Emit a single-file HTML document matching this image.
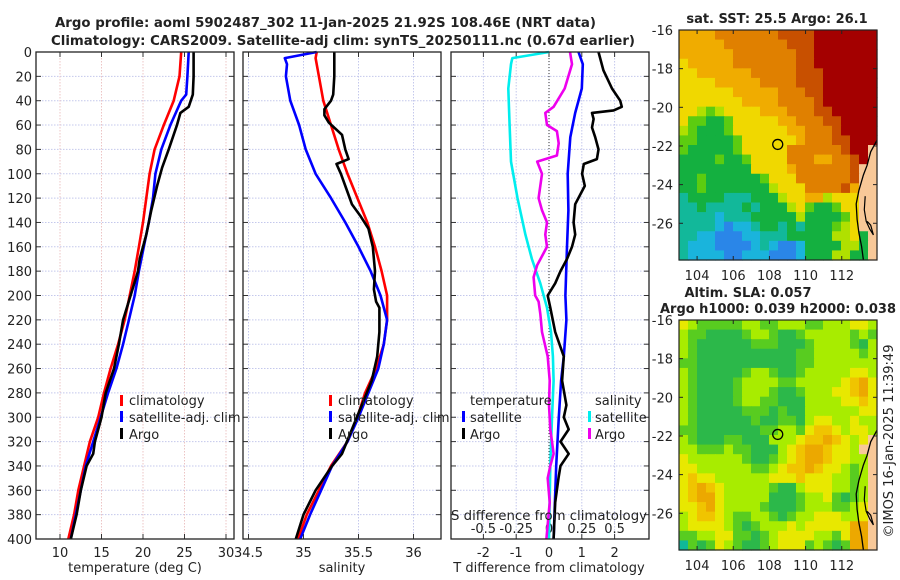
<!DOCTYPE html>
<html><head><meta charset="utf-8">
<style>
html,body{margin:0;padding:0;background:#fff;}
svg{display:block;font-family:"DejaVu Sans","Liberation Sans",sans-serif;}
text{fill:#222;}
</style></head>
<body>
<svg id="fig" width="900" height="580" viewBox="0 0 900 580" xmlns="http://www.w3.org/2000/svg">
<rect x="0" y="0" width="900" height="580" fill="#fff"/>
<text x="55" y="27" font-size="13" font-weight="bold" textLength="541" lengthAdjust="spacingAndGlyphs">Argo profile: aoml 5902487_302 11-Jan-2025 21.92S 108.46E (NRT data)</text>
<text x="51" y="45" font-size="13" font-weight="bold" textLength="584" lengthAdjust="spacingAndGlyphs">Climatology: CARS2009. Satellite-adj clim: synTS_20250111.nc (0.67d earlier)</text>
<g id="p1"></g>
<g id="p2"></g>
<g id="p3"></g>
<g id="m1"></g>
<g id="m2"></g>
<text x="135" y="572" font-size="13" text-anchor="middle">temperature (deg C)</text>
<text x="342" y="572" font-size="13" text-anchor="middle">salinity</text>
<text x="549" y="572" font-size="13" text-anchor="middle">T difference from climatology</text>
<text x="549" y="520" font-size="13" text-anchor="middle" textLength="196" lengthAdjust="spacingAndGlyphs">S difference from climatology</text>
<text x="777" y="23" font-size="13" font-weight="bold" text-anchor="middle">sat. SST: 25.5 Argo: 26.1</text>
<text x="748" y="297" font-size="13" font-weight="bold" text-anchor="middle">Altim. SLA: 0.057</text>
<text x="778" y="313" font-size="13" font-weight="bold" text-anchor="middle" textLength="236" lengthAdjust="spacingAndGlyphs">Argo h1000: 0.039 h2000: 0.038</text>
<text transform="translate(893,441) rotate(-90)" font-size="13" text-anchor="middle">©IMOS 16-Jan-2025 11:39:49</text>
<!-- legends -->
<g>
<rect x="120" y="395" width="3" height="11" fill="#f00"/>
<text x="129" y="405" font-size="13">climatology</text>
<rect x="120" y="411" width="3" height="11" fill="#00f"/>
<text x="129" y="422" font-size="13">satellite-adj. clim</text>
<rect x="120" y="428" width="3" height="11" fill="#000"/>
<text x="129" y="439" font-size="13">Argo</text>
</g>
<g>
<rect x="329" y="395" width="3" height="11" fill="#f00"/>
<text x="338" y="405" font-size="13">climatology</text>
<rect x="329" y="411" width="3" height="11" fill="#00f"/>
<text x="338" y="422" font-size="13">satellite-adj. clim</text>
<rect x="329" y="428" width="3" height="11" fill="#000"/>
<text x="338" y="439" font-size="13">Argo</text>
</g>
<g>
<text x="470" y="405" font-size="13">temperature</text>
<rect x="462" y="411" width="3" height="11" fill="#00f"/>
<text x="470" y="422" font-size="13">satellite</text>
<rect x="462" y="428" width="3" height="11" fill="#000"/>
<text x="470" y="439" font-size="13">Argo</text>
<text x="595" y="405" font-size="13">salinity</text>
<rect x="588" y="411" width="3" height="11" fill="#0ee"/>
<text x="595" y="422" font-size="13">satellite</text>
<rect x="588" y="428" width="3" height="11" fill="#e0e"/>
<text x="595" y="439" font-size="13">Argo</text>
</g>
</svg>
<script>
// ---------- profile data ----------
const depthTicks = [0,20,40,60,80,100,120,140,160,180,200,220,240,260,280,300,320,340,360,380,400];
const tTicks = [10,15,20,25,30];
const sTicks = [34.5,35,35.5,36];
const dTTicks = [-2,-1,0,1,2];
const dSTicks = [-0.5,-0.25,0,0.25,0.5];
const dSTickLabels = ["-0.5","-0.25","0","0.25","0.5"];

const tClimDepth = [0,20,40,60,80,100,120,140,160,180,200,220,240,260,280,300,320,340,360,380,400];
const tClimVals  = [24.6,24.4,23.7,22.5,21.4,20.8,20.4,20.0,19.5,19.0,18.4,17.8,17.0,16.1,15.3,14.6,13.6,12.9,12.2,11.7,11.0];
const tSatDepth = [0,20,35,40,60,80,100,120,140,160,180,200,220,240,260,280,300,320,340,360,380,400];
const tSatVals  = [25.5,25.35,25.2,24.6,23.3,22.2,21.5,21.2,20.7,20.1,19.5,19.0,18.3,17.6,16.8,15.8,14.9,14.0,13.1,12.5,11.9,11.3];
const tArgoDepth = [0,20,35,45,50,60,80,95,110,130,150,170,180,200,220,240,260,280,300,320,330,340,360,380,400];
const tArgoVals  = [26.1,26.1,26.0,25.5,24.5,24.1,23.1,22.3,21.7,21.0,20.4,19.6,19.4,18.5,17.6,17.1,16.5,15.5,15.0,14.2,14.0,13.2,12.5,12.0,11.3];

const sClimDepth = [0,5,20,40,60,80,100,120,140,160,180,200,220,240,260,280,300,320,340,360,380,400];
const sClimVals  = [35.12,35.11,35.14,35.18,35.25,35.32,35.40,35.49,35.58,35.65,35.71,35.76,35.76,35.73,35.66,35.56,35.49,35.40,35.25,35.14,35.03,34.95];
const sSatDepth = [0,5,10,20,40,60,80,100,120,140,160,180,200,220,240,260,280,300,320,340,360,380,400];
const sSatVals  = [35.12,34.83,34.85,34.84,34.88,34.96,35.02,35.11,35.25,35.38,35.50,35.61,35.70,35.76,35.73,35.68,35.59,35.50,35.40,35.26,35.16,35.06,34.97];
const sArgoDepth = [0,20,35,40,47,52,58,68,80,88,92,100,115,125,135,145,160,180,195,205,210,230,250,270,290,310,330,340,360,380,400];
const sArgoVals  = [35.28,35.28,35.27,35.25,35.19,35.19,35.23,35.35,35.38,35.41,35.30,35.34,35.40,35.44,35.52,35.59,35.63,35.65,35.64,35.66,35.69,35.69,35.67,35.62,35.53,35.44,35.35,35.26,35.11,35.00,34.93];

const dTSatDepth = [0,10,30,50,70,100,130,160,200,220,250,270,300,340,400];
const dTSatVals  = [0.90,1.03,1.00,0.80,0.65,0.57,0.59,0.55,0.50,0.53,0.45,0.37,0.30,0.22,0.14];
const dTArgoDepth = [0,15,30,40,45,48,50,55,62,70,80,88,92,100,110,125,140,150,160,170,180,190,200,210,230,250,270,290,300,310,320,330,340,350,370,400];
const dTArgoVals  = [1.51,1.66,1.92,2.17,2.22,1.97,1.31,1.36,1.31,1.41,1.51,1.46,1.06,1.01,1.09,0.80,0.75,0.80,0.70,0.55,0.35,0.19,-0.04,0.04,0.19,0.45,0.40,0.53,0.45,0.60,0.35,0.60,0.35,0.29,0.19,0.14];
const dSSatDepth = [0,5,10,30,60,90,120,150,170,190,210,230,250,270,300,340,400];
const dSSatVals  = [0,-0.28,-0.29,-0.31,-0.30,-0.29,-0.24,-0.18,-0.13,-0.066,-0.015,0.015,0.03,0.035,0.023,0.01,0];
const dSArgoDepth = [0,10,30,45,50,60,65,75,85,90,100,120,130,140,150,160,175,185,200,205,215,230,250,270,290,310,320,330,340,350,370,400];
const dSArgoVals  = [0.16,0.175,0.12,0.035,-0.028,-0.015,0.06,0.074,0.06,-0.09,-0.053,-0.079,-0.053,-0.015,-0.028,-0.015,-0.09,-0.117,-0.105,-0.079,-0.066,-0.053,-0.01,0.005,0,0.01,0.023,0.035,0.01,-0.01,0.005,-0.02];

// ---------- map data ----------
const sstRows = [
"ooooOOOOOOOddddRRRRRRR","oooooOOOOOOOdddRRRRRRR","ooooooOOOOOOOddRRRRRRR","YoooooOOOOOOOddRRRRRRR",
"YYooooooOOOOOdddRRRRRR","YYYYoooooOOOOdddRRRRRR","YYYYYYoooooOOOddRRRRRR","YYYYYYYooooOOOOdRRRRRR",
"YYylyYYYYoooOOOddRRRRR","YllgglYYYYYooOOOddRRRR","ylggglYYYYYYooOOOdRRRR","llgggglYYYYYYoOOOddRRR",
"lggggglYYYYYOOOOOOdRRL","gggglgglYYYYOOOooOOdRL","ggggggggYYYYoOOOOOOdLL","gglgggggglYYYOOOOOOdLL",
"gglgggggggyYYYOOOOdoLL","tggggtttgggyYYooyYYYLL","ttgttttgtgggyYlgglYYLL","ttttctttgggggygggglYLL",
"ttttcbcctggtgtggglyYLL","ttccbbbcctttgggggyyYgL","tcccbbbbctcbbcggggyygL","tccccbbcccbbbcgggyyggL"];
const slaRows = [
"ylgggggllgglllgglllyyl","lggGGGGgllgGGglllllglg","lgGGGGGGgggGGGgllllgGl","lgGGGGGGGGGGGgglllllgl",
"ggGGGGGGGGGGGgglllllll","lgGGGGGgllgGGglllllyyl","lgGGGGgllllgglllllyoOy","lgGGGGglllgGGglllyyoOy",
"lgGGGGgllggGGGllllyyoy","lgGGGGGgggGgGGllllllyy","lgGGGGGGgGGggGlyyllyll","ggGGGGGGGggllgyooylyyl",
"lgGGGggGGGlllyooOoylyL","llggglggGGGlyoOOoyylLL","yllllllgGGglyoOOoyyllL","yyllllllgglyooOoyylglL",
"yoyyllllllyyyoyyyllglL","yoOoylllllgGGlyyyllglL","yoOOylllllGGGgllygGglL","yyoOyllllgGGGglllgglyL",
"lyooylggllgGgllyyyllyL","lyyyylgGglllylyyyyyOOL","ggllyyggGglyyyyllgyOOL","tgGgylgGGglyyyglgGgOOL"];
const lonTicks = [104,106,108,110,112];
const latTicks = [-16,-18,-20,-22,-24,-26];
const coastLon = [113.95,113.6,113.4,113.2,112.95,112.8,112.85,112.95,113.1,113.2];
const coastLat = [-21.7,-22.3,-23.0,-23.5,-24.3,-25.0,-25.8,-26.5,-27.2,-27.9];
const bayLon = [113.3,113.25,113.35,113.55,113.75,113.6,113.4];
const bayLat = [-24.6,-25.3,-25.9,-26.3,-26.6,-26.1,-25.9];
const argoLon = 108.46, argoLat = -21.92;

const sstColors = {b:"#2a86e8",c:"#1ab4dc",t:"#12b89a",g:"#14b040",l:"#5ccc10",y:"#b0e000",Y:"#f0d800",o:"#f0ac00",O:"#e08000",d:"#c85000",R:"#a40000",L:"#f8c898"};
const slaColors = {t:"#10b898",G:"#2cb84a",g:"#58cc20",l:"#a8ec00",y:"#e8e800",o:"#f0c400",O:"#eca800",L:"#f8c898"};

const NS="http://www.w3.org/2000/svg";
function mk(parent, tag, attrs, txt){
  const e=document.createElementNS(NS,tag);
  for(const k in attrs) e.setAttribute(k,attrs[k]);
  if(txt!==undefined) e.textContent=txt;
  parent.appendChild(e); return e;
}
const Y0=52, Y1=539;
function yD(d){ return Y0 + d*(Y1-Y0)/400; }
function xT(t){ return 60 + (t-10)*8.3; }
function xS(s){ return 248.5 + (s-34.5)*110; }
function xDT(v){ return 549 + v*32.8; }
function xDS(v){ return 549 + v*4*32.8; }

function panel(g, x0, x1, xticks, xfn, labels, gridColor, showY){
  for(const d of depthTicks){
    const y=yD(d);
    const gl=mk(g,"line",{x1:x0,x2:x1,y1:y,y2:y,stroke:"#c4c8ec","stroke-width":1,"stroke-dasharray":"1.5,1.5"});
    
    
    const t1=mk(g,"line",{x1:x0,x2:x0+5,y1:y,y2:y,stroke:"#333"});
    
    
    const t2=mk(g,"line",{x1:x1-5,x2:x1,y1:y,y2:y,stroke:"#333"});
    
    
    if(showY){
      const tl=mk(g,"text",{x:x0-4,y:y+5,"font-size":13,"text-anchor":"end"},String(d));
      
      
    }
  }
  xticks.forEach((v,i)=>{
    const x=xfn(v);
    const gl=mk(g,"line",{x1:x,x2:x,y1:Y0,y2:Y1,stroke:gridColor,"stroke-width":1,"stroke-dasharray":"1.5,1.5"});
    
    
    const t1=mk(g,"line",{x1:x,x2:x,y1:Y1,y2:Y1-5,stroke:"#333"});
    
    
    const t2=mk(g,"line",{x1:x,x2:x,y1:Y0,y2:Y0+5,stroke:"#333"});
    
    
    const tl=mk(g,"text",{x:x,y:557,"font-size":13,"text-anchor":"middle"},labels?labels[i]:String(v));
    
    
  });
}
function frame(g,x0,x1){
  const r=mk(g,"rect",{x:x0,y:Y0,width:x1-x0,height:Y1-Y0,fill:"none",stroke:"#222","stroke-width":1.3});
  
  
}
function series(g, depths, vals, xfn, color, name){
  const pts=depths.map((d,i)=>xfn(vals[i]).toFixed(1)+","+yD(d).toFixed(1)).join(" ");
  const p=mk(g,"polyline",{points:pts,fill:"none",stroke:color,"stroke-width":2.6,"stroke-linejoin":"round"});
  
  
}

const p1=document.getElementById("p1");
panel(p1,36,234,tTicks,xT,null,"#ecc4c4",true);
series(p1,tClimDepth,tClimVals,xT,"#f00","temperature-climatology-line");
series(p1,tSatDepth,tSatVals,xT,"#00f","temperature-satellite-line");
series(p1,tArgoDepth,tArgoVals,xT,"#000","temperature-argo-line");
frame(p1,36,234);

const p2=document.getElementById("p2");
panel(p2,243,441,sTicks,xS,null,"#c4c8ec",false);
series(p2,sClimDepth,sClimVals,xS,"#f00","salinity-climatology-line");
series(p2,sSatDepth,sSatVals,xS,"#00f","salinity-satellite-line");
series(p2,sArgoDepth,sArgoVals,xS,"#000","salinity-argo-line");
frame(p2,243,441);

const p3=document.getElementById("p3");
panel(p3,451,649,dTTicks,xDT,null,"#c4c8ec",false);
const zl=mk(p3,"line",{x1:xDT(0),x2:xDT(0),y1:Y0,y2:Y1,stroke:"#333","stroke-width":1,"stroke-dasharray":"1,2"});


dSTicks.forEach((v,i)=>{
  const tl=mk(p3,"text",{x:xDS(v),y:533,"font-size":13,"text-anchor":"middle"},dSTickLabels[i]);
  
  
});
series(p3,dSSatDepth,dSSatVals,xDS,"#0ee","s-diff-satellite-line");
series(p3,dSArgoDepth,dSArgoVals,xDS,"#e0e","s-diff-argo-line");
series(p3,dTSatDepth,dTSatVals,xDT,"#00f","t-diff-satellite-line");
series(p3,dTArgoDepth,dTArgoVals,xDT,"#000","t-diff-argo-line");
frame(p3,451,649);

// ---------- maps ----------
function map(g, rows, colors, top, bottom, cellName){
  const L=679,R=877, lon0=103, lon1=113.95, lat0=-16, lat1=-27.9;
  const xm=lon=>L+(lon-lon0)*(R-L)/(lon1-lon0);
  const ym=lat=>top+(lat-lat0)*(bottom-top)/(lat1-lat0);
  const nr=rows.length, nc=rows[0].length;
  const cw=(R-L)/nc, ch=(bottom-top)/nr;
  rows.forEach((row,r)=>{
    for(let c=0;c<nc;c++){
      const cell=mk(g,"rect",{x:(L+c*cw).toFixed(2),y:(top+r*ch).toFixed(2),width:(cw+0.6).toFixed(2),height:(ch+0.6).toFixed(2),fill:colors[row[c]]||"#fff"});
      
      
    }
  });
  const cp=mk(g,"polyline",{points:coastLon.map((v,i)=>xm(v).toFixed(1)+","+ym(coastLat[i]).toFixed(1)).join(" "),fill:"none",stroke:"#000","stroke-width":1.3});
  
  
  const bp=mk(g,"polyline",{points:bayLon.map((v,i)=>xm(v).toFixed(1)+","+ym(bayLat[i]).toFixed(1)).join(" "),fill:"none",stroke:"#000","stroke-width":1.2});
  
  
  const fr=mk(g,"rect",{x:L,y:top,width:R-L,height:bottom-top,fill:"none",stroke:"#222","stroke-width":1.2});
  
  
  lonTicks.forEach(v=>{
    const x=xm(v);
    const t1=mk(g,"line",{x1:x,x2:x,y1:bottom,y2:bottom-4,stroke:"#222"});
    
    
    const t2=mk(g,"line",{x1:x,x2:x,y1:top,y2:top+4,stroke:"#222"});
    
    
    const tl=mk(g,"text",{x:x,y:bottom+20,"font-size":13,"text-anchor":"middle"},String(v));
    
    
  });
  latTicks.forEach(v=>{
    const y=ym(v);
    const t1=mk(g,"line",{x1:L,x2:L+4,y1:y,y2:y,stroke:"#222"});
    
    
    const t2=mk(g,"line",{x1:R,x2:R-4,y1:y,y2:y,stroke:"#222"});
    
    
    const tl=mk(g,"text",{x:L-6,y:y+5,"font-size":13,"text-anchor":"end"},String(v));
    
    
  });
  const ci=mk(g,"circle",{cx:xm(argoLon),cy:ym(argoLat),r:5,fill:"none",stroke:"#000","stroke-width":1.3});
  
  
}
map(document.getElementById("m1"),sstRows,sstColors,30,260,"sst-cell");
map(document.getElementById("m2"),slaRows,slaColors,320,550,"sla-cell");
</script>
</body></html>
